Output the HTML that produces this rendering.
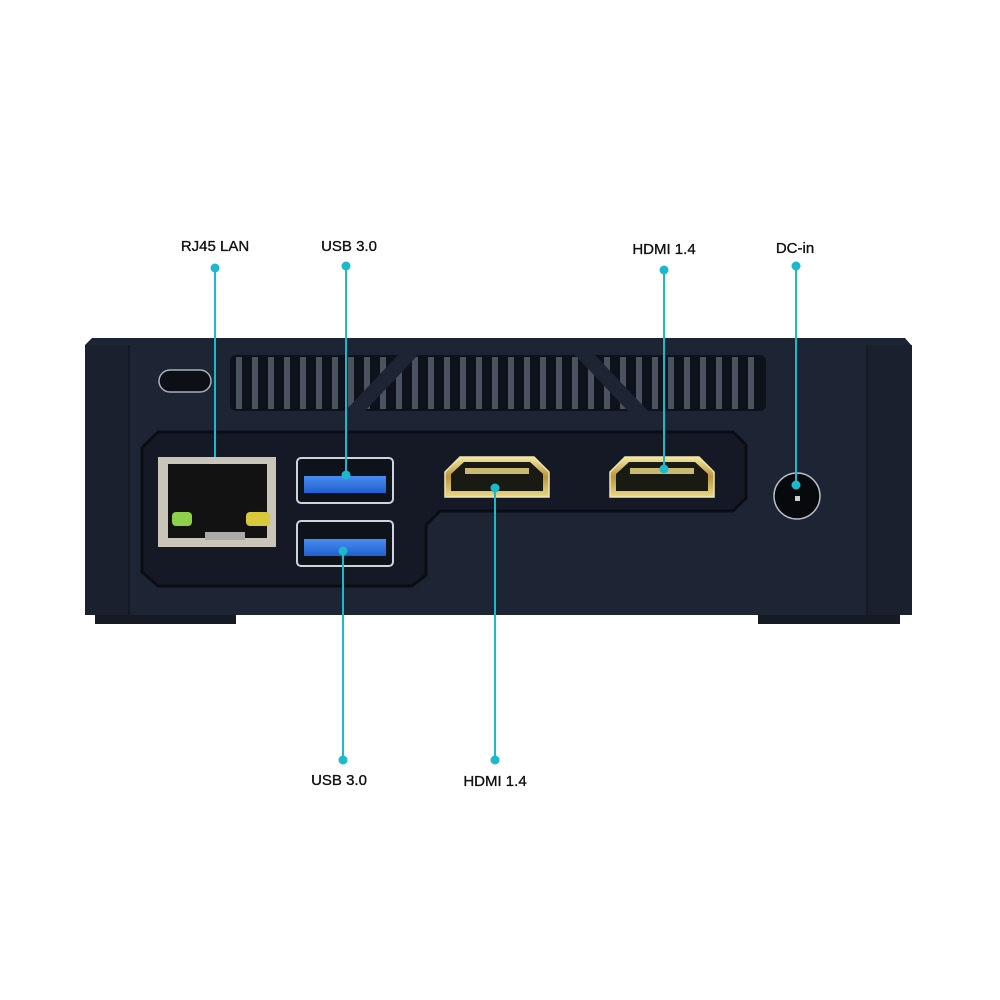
<!DOCTYPE html>
<html><head><style>
html,body{margin:0;padding:0;background:#fff;}
svg{display:block}
text{font-family:"Liberation Sans",sans-serif;font-size:15px;fill:#111;stroke:#111;stroke-width:0.35px;}
</style></head><body>
<svg width="1000" height="1000" viewBox="0 0 1000 1000">
<defs>
<linearGradient id="gold" x1="0" y1="0" x2="0" y2="1"><stop offset="0" stop-color="#f3e7a0"/><stop offset="0.5" stop-color="#b8973c"/><stop offset="1" stop-color="#e9d98a"/></linearGradient>
<linearGradient id="blue" x1="0" y1="0" x2="0" y2="1"><stop offset="0" stop-color="#4a8df0"/><stop offset="1" stop-color="#1f5fd0"/></linearGradient>
</defs>
<!-- feet -->
<rect x="95" y="610" width="141" height="14" fill="#151a24"/>
<rect x="758" y="610" width="142" height="14" fill="#151a24"/>
<!-- body -->
<path d="M92 338 L905 338 L912 346 L912 615 L85 615 L85 345 Z" fill="#1d2433"/>
<rect x="85" y="345" width="43" height="270" fill="#1a202d"/>
<line x1="129" y1="345" x2="129" y2="615" stroke="#141925" stroke-width="2"/>
<rect x="868" y="345" width="44" height="270" fill="#1a202d"/>
<line x1="867" y1="345" x2="867" y2="615" stroke="#141925" stroke-width="2"/>
<!-- lock slot -->
<rect x="159" y="370" width="52" height="22" rx="11" fill="#0c0f16" stroke="#aab0bb" stroke-width="1.5"/>
<!-- vent -->
<rect x="230" y="355" width="536" height="56" rx="6" fill="#0e121a"/>
<g fill="#4b5260">
<rect x="236" y="357" width="6" height="52"/><rect x="252" y="357" width="6" height="52"/><rect x="268" y="357" width="6" height="52"/><rect x="284" y="357" width="6" height="52"/><rect x="300" y="357" width="6" height="52"/><rect x="316" y="357" width="6" height="52"/><rect x="332" y="357" width="6" height="52"/><rect x="348" y="357" width="6" height="52"/><rect x="364" y="357" width="6" height="52"/><rect x="380" y="357" width="6" height="52"/><rect x="396" y="357" width="6" height="52"/><rect x="412" y="357" width="6" height="52"/><rect x="428" y="357" width="6" height="52"/><rect x="444" y="357" width="6" height="52"/><rect x="460" y="357" width="6" height="52"/><rect x="476" y="357" width="6" height="52"/><rect x="492" y="357" width="6" height="52"/><rect x="508" y="357" width="6" height="52"/><rect x="524" y="357" width="6" height="52"/><rect x="540" y="357" width="6" height="52"/><rect x="556" y="357" width="6" height="52"/><rect x="572" y="357" width="6" height="52"/><rect x="588" y="357" width="6" height="52"/><rect x="604" y="357" width="6" height="52"/><rect x="620" y="357" width="6" height="52"/><rect x="636" y="357" width="6" height="52"/><rect x="652" y="357" width="6" height="52"/><rect x="668" y="357" width="6" height="52"/><rect x="684" y="357" width="6" height="52"/><rect x="700" y="357" width="6" height="52"/><rect x="716" y="357" width="6" height="52"/><rect x="732" y="357" width="6" height="52"/><rect x="748" y="357" width="6" height="52"/>
</g>
<polygon points="398,355 418,355 365,411 345,411" fill="#1d2433"/>
<polygon points="575,355 595,355 648,411 628,411" fill="#1d2433"/>
<!-- recessed panel -->
<path d="M158 432 L733 432 L746 445 L746 498 L733 511 L440 511 L426 525 L426 575 L412 586 L158 586 L142 572 L142 448 Z" fill="#141925" stroke="#0a0d13" stroke-width="3"/>
<!-- RJ45 -->
<rect x="158" y="457" width="118" height="90" fill="#c9c5b8"/>
<rect x="168" y="464" width="99" height="74" fill="#121212"/>
<rect x="172" y="512" width="20" height="14" rx="4" fill="#8ed04a"/>
<rect x="246" y="512" width="24" height="14" rx="4" fill="#d7c93a"/>
<rect x="205" y="532" width="40" height="8" fill="#aaa"/>
<!-- USB -->
<rect x="297" y="458" width="96" height="45" rx="4" fill="#0e121a" stroke="#cfd3da" stroke-width="2"/>
<rect x="304" y="476" width="82" height="17" fill="url(#blue)"/>
<rect x="297" y="521" width="96" height="45" rx="4" fill="#0e121a" stroke="#cfd3da" stroke-width="2"/>
<rect x="304" y="539" width="82" height="17" fill="url(#blue)"/>
<!-- HDMI -->
<path d="M460 457 L534 457 L549 472 L549 497 L445 497 L445 472 Z" fill="url(#gold)" stroke="#f1e6b0" stroke-width="1.5"/>
<path d="M464 462 L530 462 L543 474 L543 491 L451 491 L451 474 Z" fill="#1a1a14"/>
<rect x="465" y="468" width="64" height="6" fill="#cbb870"/>
<path d="M625 457 L699 457 L714 472 L714 497 L610 497 L610 472 Z" fill="url(#gold)" stroke="#f1e6b0" stroke-width="1.5"/>
<path d="M629 462 L695 462 L708 474 L708 491 L616 491 L616 474 Z" fill="#1a1a14"/>
<rect x="630" y="468" width="64" height="6" fill="#cbb870"/>
<!-- DC -->
<circle cx="797" cy="496" r="23" fill="#07090d" stroke="#b9bec8" stroke-width="1.5"/>
<rect x="795" y="496" width="5" height="5" fill="#ccc"/>
<!-- connectors -->
<g stroke="#1cb8cc" stroke-width="2" fill="#1cb8cc">
<line x1="215" y1="268" x2="215" y2="457"/><circle cx="215" cy="268" r="3.5"/>
<line x1="346" y1="266" x2="346" y2="475"/><circle cx="346" cy="266" r="3.5"/><circle cx="346" cy="475" r="3.5"/>
<line x1="664" y1="270" x2="664" y2="469"/><circle cx="664" cy="270" r="3.5"/><circle cx="664" cy="469" r="3.5"/>
<line x1="796" y1="266" x2="796" y2="485"/><circle cx="796" cy="266" r="3.5"/><circle cx="796" cy="485" r="3.5"/>
<line x1="343" y1="551" x2="343" y2="760"/><circle cx="343" cy="551" r="3.5"/><circle cx="343" cy="760" r="3.5"/>
<line x1="495" y1="488" x2="495" y2="760"/><circle cx="495" cy="488" r="3.5"/><circle cx="495" cy="760" r="3.5"/>
</g>
<text x="215" y="251" text-anchor="middle">RJ45 LAN</text>
<text x="349" y="251" text-anchor="middle">USB 3.0</text>
<text x="664" y="254" text-anchor="middle">HDMI 1.4</text>
<text x="795" y="253" text-anchor="middle">DC-in</text>
<text x="339" y="785" text-anchor="middle">USB 3.0</text>
<text x="495" y="786" text-anchor="middle">HDMI 1.4</text>
</svg>
</body></html>
